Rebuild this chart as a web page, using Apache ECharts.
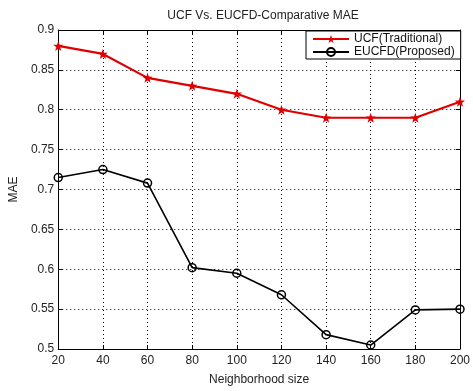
<!DOCTYPE html>
<html>
<head>
<meta charset="utf-8">
<script src="https://cdn.jsdelivr.net/npm/echarts@6/dist/echarts.min.js"></script>
<style>
  html, body { margin: 0; padding: 0; background: #fff; }
  #chart { width: 473px; height: 391px; }
</style>
</head>
<body>
<div id="chart"></div>
<script>
// Neighborhood sizes and MAE of both methods
const neighborhoodSizes = [20, 40, 60, 80, 100, 120, 140, 160, 180, 200];
const ucfMae = [0.88, 0.87, 0.84, 0.83, 0.82, 0.80, 0.79, 0.79, 0.79, 0.81];
const eucfdMae = [0.715, 0.725, 0.708, 0.602, 0.595, 0.568, 0.518, 0.505, 0.549, 0.55];

const FONT = '"Liberation Sans", Arial, sans-serif';
const star = 'path://M0,-10 L2.4,-3.2 L9.5,-3.1 L3.8,1.2 L5.9,8.1 L0,4 L-5.9,8.1 L-3.8,1.2 L-9.5,-3.1 L-2.4,-3.2 Z';

const pairs = (ys) => neighborhoodSizes.map((x, i) => [x, ys[i]]);

const chart = echarts.init(document.getElementById('chart'), null, { renderer: 'canvas' });

const gridLine = { show: true, lineStyle: { color: '#000', type: [1, 3], width: 1 } };
const tick = { show: true, inside: true, length: 4, lineStyle: { color: '#000' } };
const axisText = { color: '#222', fontFamily: FONT, fontSize: 12 };

chart.setOption({
  animation: false,
  backgroundColor: '#fff',
  title: {
    text: 'UCF Vs. EUCFD-Comparative MAE',
    left: 258, top: 5, textAlign: 'center',
    textStyle: { fontFamily: FONT, fontSize: 12, fontWeight: 'normal', color: '#222' }
  },
  grid: { left: 55, right: 10, top: 30, bottom: 40 },
  legend: {
    orient: 'vertical',
    left: 306, top: 31,
    padding: [2, 6, 1, 6],
    itemGap: 1,
    itemWidth: 36, itemHeight: 10,
    backgroundColor: '#fff',
    borderColor: '#000', borderWidth: 1,
    textStyle: { fontFamily: FONT, fontSize: 12, color: '#111' },
    data: ['UCF(Traditional)', 'EUCFD(Proposed)']
  },
  xAxis: [{
    type: 'value', min: 20, max: 200, interval: 20,
    name: 'Neighborhood size', nameLocation: 'middle', nameGap: 25,
    nameTextStyle: { fontFamily: FONT, fontSize: 12, color: '#222' },
    axisLine: { show: true, lineStyle: { color: '#000' } },
    axisTick: tick,
    axisLabel: Object.assign({ margin: 6 }, axisText),
    splitLine: gridLine
  }, {
    type: 'value', min: 20, max: 200, interval: 20, position: 'top',
    axisLine: { show: true, lineStyle: { color: '#000' } },
    axisTick: tick, axisLabel: { show: false }, splitLine: { show: false }
  }],
  yAxis: [{
    type: 'value', min: 0.5, max: 0.9, interval: 0.05,
    name: 'MAE', nameLocation: 'middle', nameGap: 33,
    nameTextStyle: { fontFamily: FONT, fontSize: 12, color: '#222' },
    axisLine: { show: true, lineStyle: { color: '#000' } },
    axisTick: tick,
    axisLabel: Object.assign({ margin: 4, formatter: (v) => String(+v.toFixed(2)) }, axisText),
    splitLine: gridLine
  }, {
    type: 'value', min: 0.5, max: 0.9, interval: 0.05, position: 'right',
    axisLine: { show: true, lineStyle: { color: '#000' } },
    axisTick: tick, axisLabel: { show: false }, splitLine: { show: false }
  }],
  series: [{
    name: 'UCF(Traditional)',
    type: 'line',
    data: pairs(ucfMae),
    symbol: star, symbolSize: 10,
    lineStyle: { color: '#e00000', width: 2.2 },
    itemStyle: { color: '#e00000', borderColor: '#e00000', borderWidth: 0 }
  }, {
    name: 'EUCFD(Proposed)',
    type: 'line',
    data: pairs(eucfdMae),
    symbol: 'circle', symbolSize: 8,
    lineStyle: { color: '#000', width: 1.6 },
    itemStyle: { color: 'rgba(255,255,255,0)', borderColor: '#000', borderWidth: 1.5 }
  }]
});
</script>
</body>
</html>
